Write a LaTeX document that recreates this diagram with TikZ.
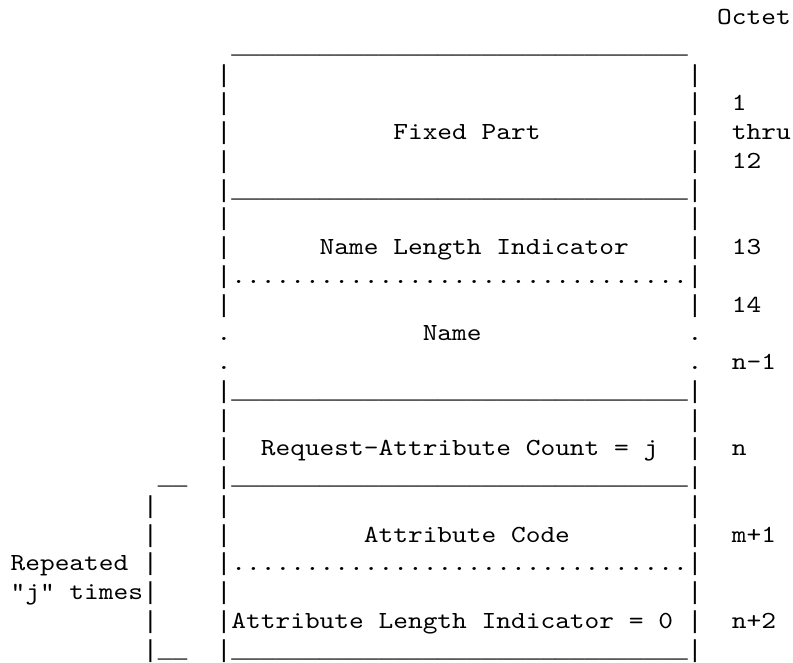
\documentclass[tikz,border=0pt]{standalone}
\usepackage{fontspec}
\newfontfamily\courfont[FakeStretch=1.143]{lmmono10-regular.otf}
\newfontfamily\rulefont{Liberation Mono}
\frenchspacing
\tikzset{
  txt/.style={anchor=base west, inner sep=0pt, outer sep=0pt,
    font=\courfont\fontsize{18.4}{22}\selectfont, text=black},
  rulechars/.style={txt, font=\rulefont\fontsize{18.4}{22}\selectfont}
}
% place a fragment: style, name, column, row, text
\newcommand\frag[5][txt]{\node[#1] (#2) at ({10.6+#3*14.72},{24.5+#4*28.76}) {#5};}
\newcommand\usfive{\_\_\_\_\_}
\newcommand\usrun{\usfive\usfive\usfive\usfive\usfive\usfive\_}
\newcommand\dtfive{.....}
\newcommand\dtrun{\dtfive\dtfive\dtfive\dtfive\dtfive\dtfive.}
\begin{document}
\begin{tikzpicture}[x=0.75pt,y=-0.75pt]
\fill[white] (0,0) rectangle (793,662);
\useasboundingbox (0,0) rectangle (793,662);
% header
\frag{octet}{48}{0}{Octet}
\frag[rulechars]{top}{15}{1}{\usrun}
% box borders
\foreach \r in {2,...,10,13,14,...,22}{
  \frag[rulechars]{l\r}{14}{\r}{|}
  \frag[rulechars]{r\r}{46}{\r}{|}
}
\foreach \r in {11,12}{
  \frag{l\r}{14}{\r}{.}
  \frag{r\r}{46}{\r}{.}
}
% separators
\frag[rulechars]{sep6}{15}{6}{\usrun}
\frag{dot9}{15}{9}{\dtrun}
\frag[rulechars]{sep13}{15}{13}{\usrun}
\frag[rulechars]{sep16}{15}{16}{\usrun}
\frag{dot19}{15}{19}{\dtrun}
\frag[rulechars]{sep22}{15}{22}{\usrun}
% field labels
\frag{fixed}{26}{4}{Fixed Part}
\frag{nli}{21}{8}{Name Length Indicator}
\frag{name}{28}{11}{Name}
\frag{rac}{17}{15}{Request-Attribute Count = j}
\frag{acode}{24}{18}{Attribute Code}
\frag{ali}{15}{21}{Attribute Length Indicator = 0}
% octet numbers
\frag{o1}{49}{3}{1}
\frag{othru}{49}{4}{thru}
\frag{o12}{49}{5}{12}
\frag{o13}{49}{8}{13}
\frag{o14}{49}{10}{14}
\frag{onm1}{49}{12}{n-1}
\frag{on}{49}{15}{n}
\frag{om1}{49}{18}{m+1}
\frag{on2}{49}{21}{n+2}
% repetition bracket
\frag[rulechars]{btop}{10}{16}{\_\_}
\foreach \r in {17,...,22}{\frag[rulechars]{b\r}{9}{\r}{|}}
\frag[rulechars]{bbot}{10}{22}{\_\_}
\frag{rep}{0}{19}{Repeated}
\frag{jt}{0}{20}{"j" times}
\end{tikzpicture}
\end{document}
